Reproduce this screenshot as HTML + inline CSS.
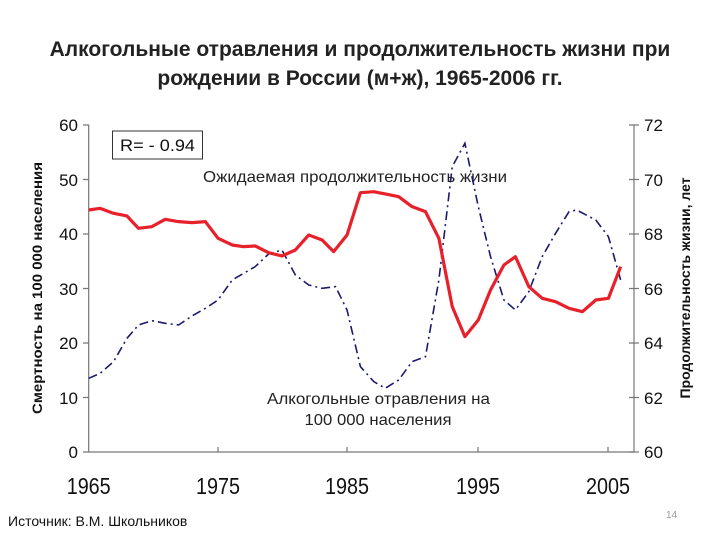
<!DOCTYPE html>
<html><head><meta charset="utf-8"><style>
body{margin:0;width:720px;height:540px;background:#fff;overflow:hidden}
svg{display:block}
text{font-family:"Liberation Sans",sans-serif}
</style></head><body>
<svg width="720" height="540" viewBox="0 0 720 540">
<text x="360" y="56" text-anchor="middle" font-size="21" font-weight="bold" fill="#222">Алкогольные отравления и продолжительность жизни при</text>
<text x="360" y="85" text-anchor="middle" font-size="21" font-weight="bold" fill="#222">рождении в России (м+ж), 1965-2006 гг.</text>
<g stroke="#777" stroke-width="1.2" fill="none">
<line x1="88.7" y1="125" x2="88.7" y2="452"/>
<line x1="88.7" y1="452" x2="634" y2="452"/>
<line x1="634" y1="125" x2="634" y2="452"/>
<path d="M83 125h6M83 179.5h6M83 234h6M83 288.5h6M83 343h6M83 397.5h6M83 452h6"/>
<path d="M629 125h10M629 179.5h10M629 234h10M629 288.5h10M629 343h10M629 397.5h10M629 452h10"/>
<path d="M218 452v-5M347 452v-5M478 452v-5M608 452v-5"/>
</g>
<g font-size="17" fill="#111" text-anchor="end">
<text x="78" y="131">60</text><text x="78" y="186">50</text><text x="78" y="240">40</text><text x="78" y="295">30</text><text x="78" y="349">20</text><text x="78" y="404">10</text><text x="78" y="458">0</text>
</g>
<g font-size="17" fill="#111">
<text x="644" y="131">72</text><text x="644" y="186">70</text><text x="644" y="240">68</text><text x="644" y="295">66</text><text x="644" y="349">64</text><text x="644" y="404">62</text><text x="644" y="458">60</text>
</g>
<g font-size="23" fill="#111" text-anchor="middle">
<text x="88.7" y="494" textLength="44" lengthAdjust="spacingAndGlyphs">1965</text>
<text x="218" y="494" textLength="44" lengthAdjust="spacingAndGlyphs">1975</text>
<text x="347" y="494" textLength="44" lengthAdjust="spacingAndGlyphs">1985</text>
<text x="478" y="494" textLength="44" lengthAdjust="spacingAndGlyphs">1995</text>
<text x="608" y="494" textLength="44" lengthAdjust="spacingAndGlyphs">2005</text>
</g>
<text transform="translate(42,288) rotate(-90)" text-anchor="middle" font-size="14" font-weight="bold" fill="#111" textLength="252" lengthAdjust="spacingAndGlyphs">Смертность на 100 000 населения</text>
<text transform="translate(690,288) rotate(-90)" text-anchor="middle" font-size="14" font-weight="bold" fill="#111">Продолжительность жизни, лет</text>
<rect x="112.5" y="131" width="90" height="28" fill="#fff" stroke="#333" stroke-width="1"/>
<text x="120" y="151" font-size="17" fill="#111" textLength="75" lengthAdjust="spacingAndGlyphs">R= - 0.94</text>
<text x="203" y="182" font-size="16" fill="#222" textLength="304" lengthAdjust="spacingAndGlyphs">Ожидаемая продолжительность жизни</text>
<text x="267" y="404" font-size="16" fill="#222" textLength="223" lengthAdjust="spacingAndGlyphs">Алкогольные отравления на</text>
<text x="378" y="425" text-anchor="middle" font-size="16" fill="#222" textLength="147" lengthAdjust="spacingAndGlyphs">100 000 населения</text>
<g transform="translate(60,110) scale(0.3827,0.3333)" fill="none">
<polyline vector-effect="non-scaling-stroke" stroke="#1a1a6e" stroke-width="1.6" stroke-dasharray="9,4,2,4" points="75,805 105,790 140,755 175,685 205,645 240,632 275,640 310,645 345,618 380,595 413,570 450,510 480,490 510,470 545,432 580,420 615,495 650,525 685,535 720,530 750,600 785,770 820,815 850,835 885,810 920,755 955,740 990,510 1025,170 1058,100 1093,290 1125,440 1160,570 1190,600 1225,545 1260,440 1295,370 1330,305 1350,300 1400,330 1433,380 1465,510"/>
<polyline vector-effect="non-scaling-stroke" stroke="#e8202a" stroke-width="3.2" stroke-linejoin="round" points="75,300 105,295 140,310 175,318 205,355 240,350 275,328 310,335 345,338 380,335 413,385 450,405 480,410 510,408 545,428 580,438 615,420 650,375 685,390 715,425 750,375 785,248 820,245 850,252 885,260 920,290 955,305 990,385 1025,590 1058,680 1093,630 1125,540 1160,465 1190,440 1225,530 1260,565 1295,575 1330,595 1365,605 1400,570 1433,565 1465,470"/>
</g>
<text x="8" y="526" font-size="14" fill="#111">Источник: В.М. Школьников</text>
<text x="666" y="518" font-size="10" fill="#999">14</text>
</svg>
</body></html>
